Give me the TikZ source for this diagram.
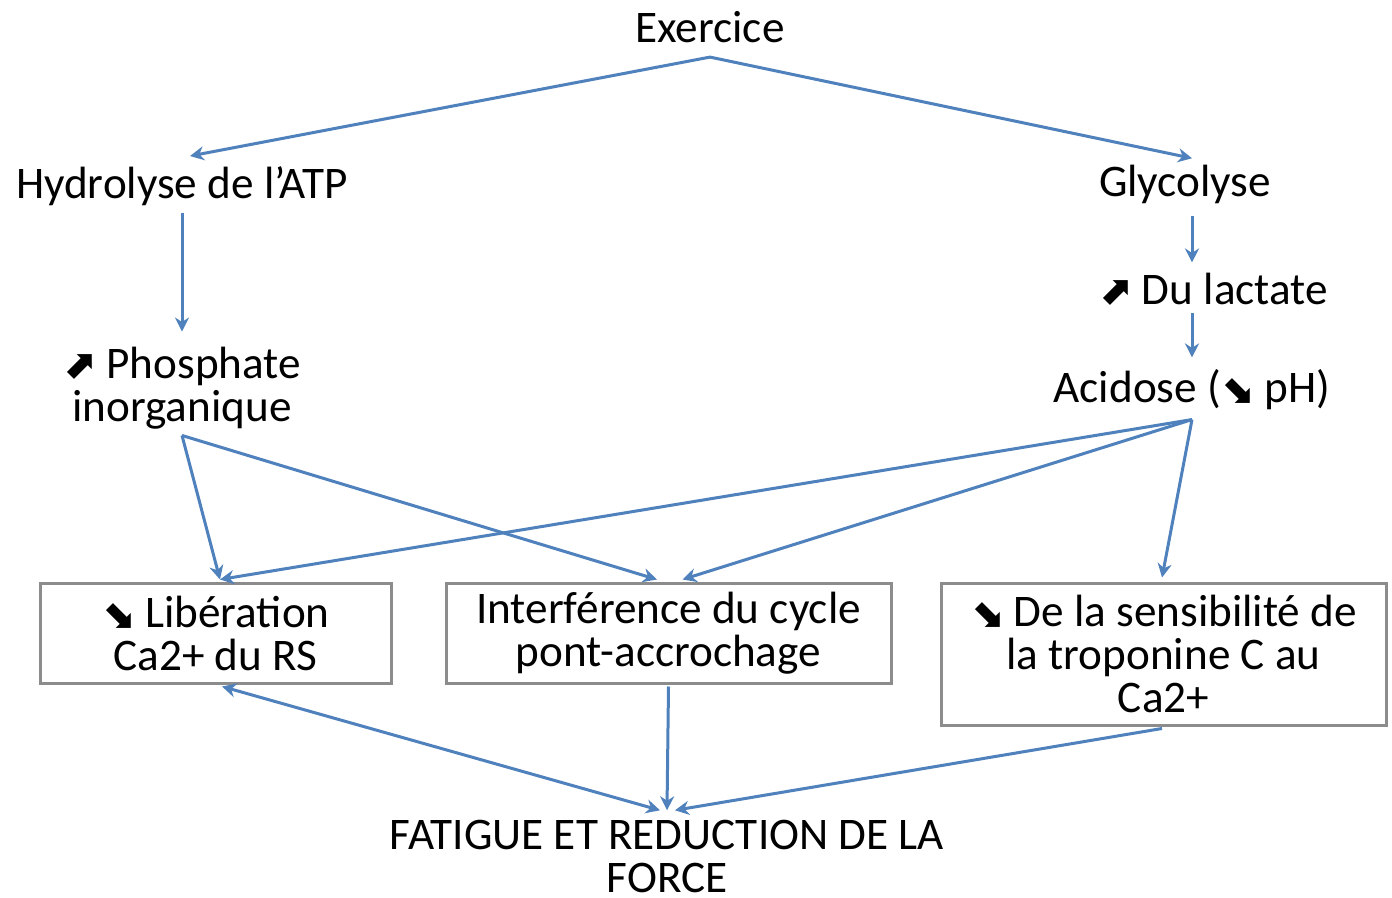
\documentclass[tikz,border=0pt]{standalone}
\usepackage{fontspec}
\setmainfont{Carlito}
\newfontfamily\symf{DejaVu Sans}
\usetikzlibrary{arrows.meta}
\definecolor{lineblue}{HTML}{4F81BD}
\definecolor{boxgray}{HTML}{8C8C8C}
\tikzset{
  txt/.style={inner sep=0pt, align=center, font=\fontsize{22.6}{21.5}\selectfont},
  box/.style={txt, draw=boxgray, line width=1.5pt, fill=white},
  conn/.style={draw=lineblue, line width=1.5pt, -{Stealth[length=7pt,width=7pt]}},
  conn2/.style={draw=lineblue, line width=1.5pt, {Stealth[length=7pt,width=7pt]}-{Stealth[length=7pt,width=7pt]}}
}
\newcommand{\upar}{{\symf\bfseries\fontsize{20}{20}\selectfont ⬈}}
\newcommand{\dnar}{{\symf\bfseries\fontsize{20}{20}\selectfont ⬊}}
\begin{document}
\begin{tikzpicture}[x=0.5pt,y=-0.5pt]
\useasboundingbox[fill=white] (0,0) rectangle (1392,898);
% boxes
\node[box, minimum width=175.5pt, minimum height=50pt] (lib) at (215.5,633) {\dnar\ Libération\\Ca2+ du RS};
\node[box, minimum width=222.5pt, minimum height=50pt] (int) at (668.5,633) {Interférence du cycle\\pont-accrochage};
\node[box, minimum width=222.5pt, minimum height=71pt] (tro) at (1163.5,654) {\dnar\ De la sensibilité de\\la troponine C au\\Ca2+};
% text nodes
\node[txt] (ex) at (710,27) {Exercice};
\node[txt] (hyd) at (182,186) {Hydrolyse de l’ATP};
\node[txt] (phos) at (182,388) {\upar\ Phosphate\\inorganique};
\node[txt] (gly) at (1185,184) {Glycolyse};
\node[txt] (lac) at (1213,289) {\upar\ Du lactate};
\node[txt] (aci) at (1192,390) {Acidose (\dnar\ pH)};
\node[txt] (fat) at (667,856) {FATIGUE ET REDUCTION DE LA\\FORCE};
% connectors
\draw[conn] ([yshift=-7pt]ex.south) -- ([xshift=4pt,yshift=5pt]hyd.north);
\draw[conn] ([yshift=-7pt]ex.south) -- ([xshift=3.5pt,yshift=3pt]gly.north);
\draw[conn] ([yshift=-3.5pt]hyd.south) -- ([yshift=7.5pt]phos.north);
\draw[conn] ([xshift=3.5pt,yshift=-6pt]gly.south) -- ([xshift=-10.5pt,yshift=5pt]lac.north);
\draw[conn] ([xshift=-10.5pt,yshift=-3.5pt]lac.south) -- ([yshift=6pt]aci.north);
\draw[conn] ([yshift=-3pt]phos.south) -- ([xshift=2.25pt,yshift=1pt]lib.north);
\draw[conn] ([yshift=-3pt]phos.south) -- ([xshift=-5.75pt,yshift=1pt]int.north);
\draw[conn] ([yshift=-4.5pt]aci.south) -- ([xshift=2.25pt,yshift=1pt]lib.north);
\draw[conn] ([yshift=-4.5pt]aci.south) -- ([xshift=7pt,yshift=1pt]int.north);
\draw[conn] ([yshift=-4.5pt]aci.south) -- ([xshift=-0.75pt,yshift=2pt]tro.north);
\draw[conn2] ([xshift=3.25pt,yshift=-1pt]lib.south) -- ([xshift=-3.5pt,yshift=4.5pt]fat.north);
\draw[conn] ([yshift=-1pt]int.south) -- ([yshift=4.5pt]fat.north);
\draw[conn] ([xshift=-0.75pt,yshift=-1pt]tro.south) -- ([xshift=4pt,yshift=4.5pt]fat.north);
\end{tikzpicture}
\end{document}
